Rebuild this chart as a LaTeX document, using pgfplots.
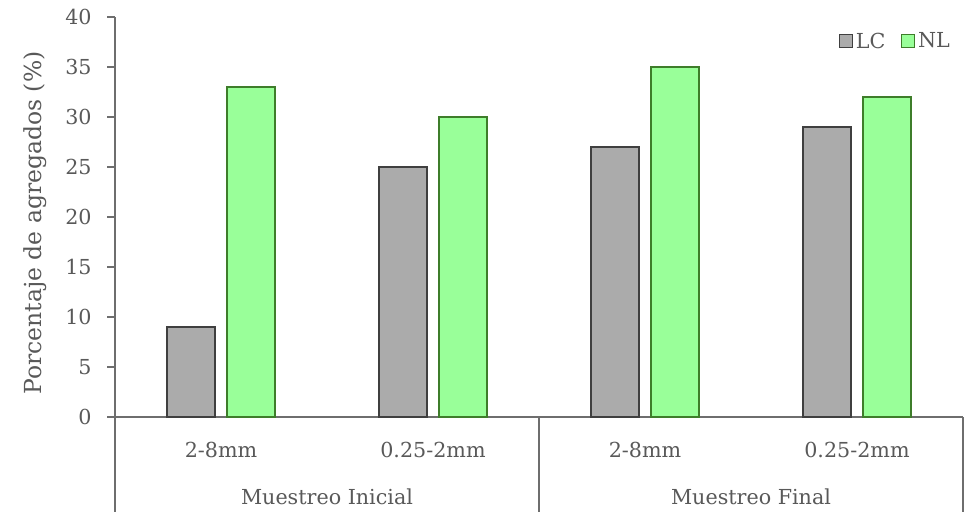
\documentclass[border=0pt]{standalone}
\usepackage{fontspec}
\setmainfont{DejaVu Serif}
\usepackage{pgfplots}
\pgfplotsset{compat=1.18}
\definecolor{txt}{HTML}{595959}
\definecolor{axc}{HTML}{6E6E6E}
\definecolor{lcfill}{HTML}{ABABAB}
\definecolor{lcdraw}{HTML}{3F3F3F}
\definecolor{nlfill}{HTML}{99FF99}
\definecolor{nldraw}{HTML}{3E7D2A}
\begin{document}
\begin{tikzpicture}
\path[use as bounding box] (0,0) rectangle (735pt,396.75pt);
\begin{axis}[
  at={(86.25pt,84pt)}, anchor=south west,
  scale only axis, width=636pt, height=300pt,
  xmin=-0.5, xmax=3.5, ymin=0, ymax=40,
  ytick={0,5,...,40},
  xtick={0,1,2,3},
  xticklabels={2-8mm,0.25-2mm,2-8mm,0.25-2mm},
  axis x line*=bottom, axis y line*=left,
  axis line style={draw=axc, line width=0.8pt},
  tick align=outside, major tick length=6pt,
  ytick style={draw=axc, line width=0.8pt},
  xtick style={draw=none},
  tick label style={text=txt, font=\fontsize{15.5}{18}\selectfont},
  /pgf/number format/assume math mode=true,
  xticklabel style={anchor=base, yshift=-24pt},
  yticklabel style={xshift=-8pt},
  clip=false,
  legend style={draw=none, fill=none, at={(0.988,0.968)}, anchor=north east,
     legend columns=2, font=\fontsize{15.5}{18}\selectfont, text=txt,
     /tikz/every even column/.append style={column sep=10pt},
     inner sep=0pt},
  legend image code/.code={\draw[#1] (0pt,-4.9pt) rectangle (9.75pt,4.9pt);},
]
\addplot[ybar, bar width=36pt, bar shift=-22.5pt, fill=lcfill, draw=lcdraw, line width=0.8pt]
  coordinates {(0,9) (1,25) (2,27) (3,29)};
\addlegendentry{LC}
\addplot[ybar, bar width=36pt, bar shift=22.5pt, fill=nlfill, draw=nldraw, line width=0.8pt]
  coordinates {(0,33) (1,30) (2,35) (3,32)};
\addlegendentry{NL}
\draw[axc, line width=0.8pt] (axis cs:-0.5,0) -- ++(-6pt,0pt);
\draw[axc, line width=0.8pt] (axis cs:-0.5,0) -- ++(0pt,-71.25pt);
\draw[axc, line width=0.8pt] (axis cs:1.5,0) -- ++(0pt,-71.25pt);
\draw[axc, line width=0.8pt] (axis cs:3.5,0) -- ++(0pt,-71.25pt);
\node[anchor=base, text=txt, font=\fontsize{15.5}{18}\selectfont] at ([yshift=-65.25pt]axis cs:0.5,0) {Muestreo Inicial};
\node[anchor=base, text=txt, font=\fontsize{15.5}{18}\selectfont] at ([yshift=-65.25pt]axis cs:2.5,0) {Muestreo Final};
\end{axis}
\node[rotate=90, text=txt, font=\fontsize{17.6}{20}\selectfont] at (26.25pt,229.5pt) {Porcentaje de agregados (\%)};
\end{tikzpicture}
\end{document}
